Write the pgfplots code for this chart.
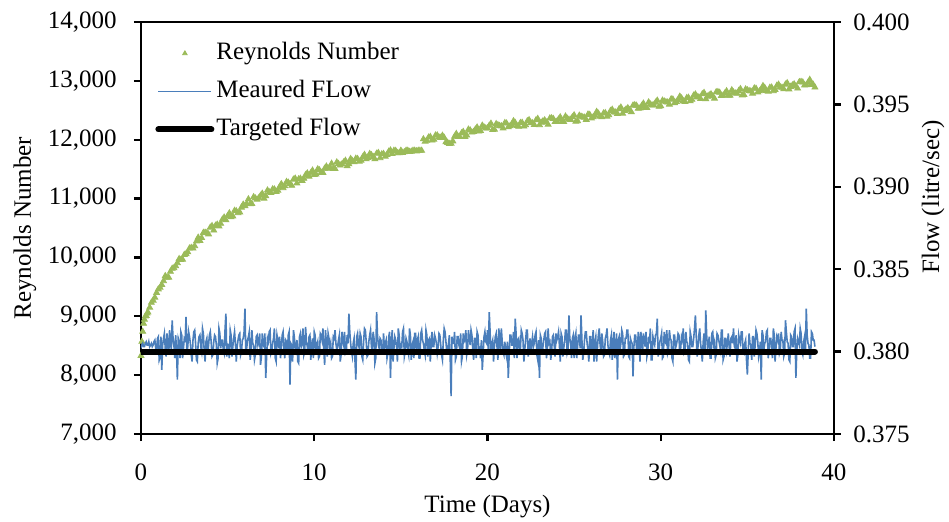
\documentclass[border=0pt]{standalone}
\usepackage{fontspec}
\setmainfont{Liberation Serif}
\usepackage{pgfplots}
\pgfplotsset{compat=1.18}
\definecolor{rgreen}{RGB}{155,187,89}
\definecolor{rblue}{RGB}{74,126,187}
\newcommand{\lblfont}{\fontsize{12.5}{15}\selectfont}
\pgfplotsset{
  common/.style={
    width=346.5pt, height=206pt, scale only axis,
    xmin=0, xmax=40,
    tick align=outside,
    major tick length=3.5pt,
    axis line style={line width=1.2pt},
    every tick/.style={black, line width=1.2pt},
    tick label style={font=\lblfont},
    label style={font=\lblfont},
    scaled y ticks=false,
    /pgf/number format/assume math mode=true,
    legend image code/.code={\draw[mark repeat=2,mark phase=2,#1] plot coordinates {(0pt,0pt) (13.25pt,0pt) (26.5pt,0pt)};},
  },
}
\begin{document}
\begin{tikzpicture}
\path[use as bounding box] (-70.5pt,-43.5pt) rectangle (404pt,217pt);
% left axis: Reynolds number
\begin{axis}[common,
  at={(0pt,0pt)}, anchor=south west,
  ymin=7000, ymax=14000,
  xtick={0,10,20,30,40},
  ytick={7000,8000,9000,10000,11000,12000,13000,14000},
  tick pos=left,
  yticklabel style={/pgf/number format/1000 sep={,}, inner sep=0pt, anchor=east, xshift=-8.5pt},
  xticklabel style={inner sep=0pt, anchor=north, yshift=-11pt},
  ylabel={Reynolds Number},
  ylabel style={at={(axis description cs:-0.1674,0.5)}, anchor=center},
  xlabel={Time (Days)},
  xlabel style={at={(axis description cs:0.5,0)}, anchor=center, yshift=-36.5pt},
]
\addplot[only marks, mark=triangle*, mark size=1.7pt, color=rgreen] coordinates {
(0.00,8330)(0.05,8570)(0.10,8740)(0.15,8875)(0.2,8945)(0.25,9000)(0.3,9010)(0.35,9050)(0.4,9068)(0.5,9150)
(0.6,9232)(0.7,9270)(0.8,9320)(0.9,9400)(1.0,9460)(1.1,9490)(1.2,9535)(1.3,9600)(1.4,9685)(1.5,9660)
(1.6,9660)(1.7,9760)(1.8,9810)(1.9,9820)(2.0,9855)(2.1,9905)(2.2,9975)(2.3,9960)(2.4,9965)(2.5,10045)
(2.6,10060)(2.7,10090)(2.8,10155)(2.9,10165)(3.0,10155)(3.2,10275)(3.4,10285)(3.6,10420)(3.8,10415)
(4.0,10510)(4.2,10460)(4.4,10560)(4.6,10575)(4.8,10680)(5.0,10705)(5.2,10685)(5.4,10795)(5.6,10755)
(5.8,10850)(6.0,10875)(6.2,10990)(6.4,10910)(6.6,11005)(6.8,11010)(7.0,11085)(7.2,11045)(7.4,11110)
(7.6,11160)(7.8,11115)(8.0,11200)(8.2,11180)(8.4,11285)(8.6,11250)(8.8,11325)(9.0,11260)(9.2,11340)
(9.4,11340)(9.6,11430)(9.8,11435)(10.0,11405)(10.2,11500)(10.4,11440)(10.6,11510)(10.8,11510)
(11.0,11595)(11.2,11505)(11.4,11590)(11.6,11585)(11.8,11645)(12.0,11585)(12.2,11640)(12.4,11680)
(12.6,11630)(12.8,11705)(13.0,11670)(13.2,11760)(13.4,11710)(13.6,11765)(13.8,11690)(14.0,11760)
(14.2,11745)(14.4,11820)(14.6,11815)(14.8,11775)(15.0,11815)(15.2,11790)(15.4,11815)(15.6,11800)
(15.8,11815)(16.0,11815)(16.2,11815)(16.4,11970)(16.6,12040)(16.8,11990)(17.0,12075)(17.2,12040)
(17.4,12070)(17.6,11960)(17.8,11930)(18.0,11975)(18.2,12100)(18.4,12050)(18.6,12135)(18.8,12075)
(19.0,12160)(19.2,12135)(19.4,12210)(19.6,12150)(19.8,12210)(20.0,12195)(20.2,12275)(20.4,12175)
(20.6,12250)(20.8,12230)(21.0,12285)(21.2,12215)(21.4,12255)(21.6,12287)(21.8,12223)(22.0,12290)
(22.2,12250)(22.4,12335)(22.6,12282)(22.8,12333)(23.0,12250)(23.2,12315)(23.4,12295)(23.6,12365)
(23.8,12355)(24.0,12307)(24.2,12383)(24.4,12304)(24.6,12360)(24.8,12341)(25.0,12417)(25.2,12318)
(25.4,12395)(25.6,12377)(25.8,12430)(26.0,12365)(26.2,12410)(26.4,12445)(26.6,12385)(26.8,12455)
(27.0,12420)(27.2,12512)(27.4,12465)(27.6,12523)(27.8,12445)(28.0,12517)(28.2,12505)(28.4,12583)
(28.6,12580)(28.8,12535)(29.0,12617)(29.2,12542)(29.4,12602)(29.6,12587)(29.8,12667)(30.0,12572)
(30.2,12652)(30.4,12635)(30.6,12690)(30.8,12625)(31.0,12670)(31.2,12705)(31.4,12645)(31.6,12715)
(31.8,12682)(32.0,12772)(32.2,12722)(32.4,12775)(32.6,12691)(32.8,12757)(33.0,12738)(33.2,12809)
(33.4,12800)(33.6,12751)(33.8,12827)(34.0,12750)(34.2,12806)(34.4,12787)(34.6,12863)(34.8,12765)
(35.0,12842)(35.2,12823)(35.4,12874)(35.6,12807)(35.8,12850)(36.0,12883)(36.2,12821)(36.4,12889)
(36.6,12850)(36.8,12938)(37.0,12886)(37.2,12939)(37.4,12857)(37.6,12925)(37.8,12908)(38.0,12981)
(38.2,12975)(38.4,12930)(38.6,13020)(38.8,12935)(38.9,12890)
(3.1,10195)(3.3,10338)(3.5,10332)(3.7,10423)(3.9,10395)(4.1,10535)(4.3,10540)(4.5,10530)(4.7,10645)
(4.9,10635)(5.1,10752)(5.3,10700)(5.5,10787)(5.7,10768)(5.9,10900)(6.1,10912)(6.3,10908)(6.5,11027)
(6.7,10985)(6.9,11050)(7.1,11002)(7.3,11140)(7.5,11097)(7.7,11158)(7.9,11137)(8.1,11248)(8.3,11212)
(8.5,11273)(8.7,11220)(8.9,11342)(9.1,11330)(9.3,11303)(9.5,11402)(9.7,11375)(9.9,11478)(10.1,11412)
(10.3,11483)(10.5,11440)(10.7,11547)(10.9,11532)(11.1,11508)(11.3,11617)(11.5,11565)(11.7,11618)
(11.9,11552)(12.1,11675)(12.3,11623)(12.5,11675)(12.7,11647)(12.9,11745)(13.1,11695)(13.3,11740)
(13.5,11670)(13.7,11778)(13.9,11755)(14.1,11715)(14.3,11800)(14.5,11760)(14.7,11812)(14.9,11775)
(15.1,11780)(15.3,11815)(15.5,11795)(15.7,11815)(15.9,11805)(16.1,11815)(16.3,12010)(16.5,11985)
(16.7,12050)(16.9,12005)(17.1,12075)(17.3,12035)(17.5,12035)(17.7,11950)(17.9,11935)(18.1,12055)
(18.3,12050)(18.5,12110)(18.7,12050)(18.9,12175)(19.1,12125)(19.3,12175)(19.5,12143)(19.7,12242)
(19.9,12195)(20.1,12240)(20.3,12167)(20.5,12268)(20.7,12237)(20.9,12195)(21.1,12278)(21.3,12232)
(21.5,12318)(21.7,12235)(21.9,12287)(22.1,12228)(22.3,12317)(22.5,12288)(22.7,12255)(22.9,12357)
(23.1,12293)(23.3,12332)(23.5,12258)(23.7,12367)(23.9,12303)(24.1,12345)(24.3,12306)(24.5,12397)
(24.7,12343)(24.9,12384)(25.1,12310)(25.3,12412)(25.5,12383)(25.7,12341)(25.9,12425)(26.1,12385)
(26.3,12475)(26.5,12395)(26.7,12450)(26.9,12395)(27.1,12491)(27.3,12468)(27.5,12442)(27.7,12549)
(27.9,12491)(28.1,12538)(28.3,12472)(28.5,12589)(28.7,12530)(28.9,12576)(29.1,12542)(29.3,12637)
(29.5,12587)(29.7,12632)(29.9,12562)(30.1,12667)(30.3,12641)(30.5,12600)(30.7,12685)(30.9,12645)
(31.1,12735)(31.3,12655)(31.5,12710)(31.7,12656)(31.9,12752)(32.1,12727)(32.3,12696)(32.5,12798)
(32.7,12734)(32.9,12775)(33.1,12701)(33.3,12812)(33.5,12748)(33.7,12789)(33.9,12751)(34.1,12843)
(34.3,12789)(34.5,12830)(34.7,12757)(34.9,12858)(35.1,12830)(35.3,12786)(35.5,12868)(35.7,12826)
(35.9,12914)(36.1,12832)(36.3,12885)(36.5,12827)(36.7,12919)(36.9,12892)(37.1,12860)(37.3,12963)
(37.5,12901)(37.7,12944)(37.9,12872)(38.1,12985)(38.3,12925)(38.5,12970)(38.7,12935)
};
\end{axis}
% right axis: flow
\begin{axis}[common,
  at={(0pt,0pt)}, anchor=south west,
  ymin=0.375, ymax=0.400,
  ytick={0.375,0.380,0.385,0.390,0.395,0.400},
  axis x line=none,
  axis y line*=right,
  yticklabel style={/pgf/number format/fixed, /pgf/number format/fixed zerofill, /pgf/number format/precision=3, inner sep=0pt, anchor=west, xshift=6pt},
  ylabel={Flow (litre/sec)},
  ylabel style={at={(axis description cs:1.143,0.575)}, anchor=center},
  legend style={draw=none, fill=none, at={(rel axis cs:0,1)}, anchor=north west, xshift=7pt, yshift=-8.5pt, inner sep=0pt, row sep=5pt,
    nodes={inner sep=1pt, text height=9pt, text depth=3pt, font=\lblfont}},
  legend cell align=left,
]
\addlegendimage{only marks, mark=triangle*, mark size=1.3pt, color=rgreen}
\addlegendentry{Reynolds Number}
\addplot[rblue, line width=0.8pt] coordinates {
(0.0,0.3802)(0.05,0.3804)(0.1,0.3805)(0.15,0.3803)(0.2,0.3803)(0.25,0.3805)(0.3,0.3806)(0.35,0.3804)(0.4,0.3804)(0.45,0.3806)(0.5,0.3803)(0.55,0.3804)(0.6,0.3805)(0.65,0.3803)(0.7,0.3804)(0.75,0.3806)(0.8,0.3807)(0.85,0.3802)(0.9,0.3801)(0.95,0.3808)
(1.0,0.3809)(1.05,0.3795)(1.1,0.3797)(1.15,0.3809)(1.2,0.3789)(1.25,0.3804)(1.3,0.3808)(1.35,0.3811)(1.4,0.3802)(1.45,0.3797)(1.5,0.3811)(1.55,0.3806)(1.6,0.3798)(1.65,0.3813)(1.7,0.3806)(1.75,0.3801)(1.8,0.3819)(1.85,0.3808)(1.9,0.3804)(1.95,0.3796)
(2.0,0.3810)(2.05,0.3801)(2.1,0.3783)(2.15,0.3808)(2.2,0.3806)(2.25,0.3796)(2.3,0.3812)(2.35,0.3810)(2.4,0.3796)(2.45,0.3802)(2.5,0.3808)(2.55,0.3807)(2.6,0.3821)(2.65,0.3799)(2.7,0.3803)(2.75,0.3812)(2.8,0.3809)(2.85,0.3805)(2.9,0.3798)(2.95,0.3794)
(3.0,0.3807)(3.05,0.3812)(3.1,0.3813)(3.15,0.3805)(3.2,0.3795)(3.25,0.3794)(3.3,0.3805)(3.35,0.3809)(3.4,0.3810)(3.45,0.3803)(3.5,0.3800)(3.55,0.3814)(3.6,0.3811)(3.65,0.3800)(3.7,0.3794)(3.75,0.3806)(3.8,0.3808)(3.85,0.3798)(3.9,0.3804)(3.95,0.3810)
(4.0,0.3812)(4.05,0.3806)(4.1,0.3797)(4.15,0.3798)(4.2,0.3806)(4.25,0.3810)(4.3,0.3809)(4.35,0.3804)(4.4,0.3793)(4.45,0.3796)(4.5,0.3814)(4.55,0.3811)(4.6,0.3802)(4.65,0.3807)(4.7,0.3807)(4.75,0.3801)(4.8,0.3799)(4.85,0.3813)(4.9,0.3823)(4.95,0.3797)
(5.0,0.3805)(5.05,0.3801)(5.1,0.3796)(5.15,0.3813)(5.2,0.3810)(5.25,0.3797)(5.3,0.3803)(5.35,0.3808)(5.4,0.3812)(5.45,0.3805)(5.5,0.3794)(5.55,0.3803)(5.6,0.3807)(5.65,0.3810)(5.7,0.3811)(5.75,0.3798)(5.8,0.3800)(5.85,0.3807)(5.9,0.3808)(5.95,0.3812)
(6.0,0.3826)(6.05,0.3798)(6.1,0.3802)(6.15,0.3807)(6.2,0.3809)(6.25,0.3812)(6.3,0.3795)(6.35,0.3800)(6.4,0.3813)(6.45,0.3805)(6.5,0.3804)(6.55,0.3795)(6.6,0.3798)(6.65,0.3809)(6.7,0.3810)(6.75,0.3804)(6.8,0.3806)(6.85,0.3811)(6.9,0.3792)(6.95,0.3797)
(7.0,0.3811)(7.05,0.3804)(7.1,0.3803)(7.15,0.3811)(7.2,0.3784)(7.25,0.3797)(7.3,0.3808)(7.35,0.3806)(7.4,0.3812)(7.45,0.3813)(7.5,0.3799)(7.55,0.3801)(7.6,0.3805)(7.65,0.3808)(7.7,0.3814)(7.75,0.3796)(7.8,0.3794)(7.85,0.3810)(7.9,0.3807)(7.95,0.3802)
(8.0,0.3809)(8.05,0.3796)(8.1,0.3802)(8.15,0.3810)(8.2,0.3812)(8.25,0.3802)(8.3,0.3796)(8.35,0.3807)(8.4,0.3806)(8.45,0.3799)(8.5,0.3810)(8.55,0.3812)(8.6,0.3780)(8.65,0.3805)(8.7,0.3804)(8.75,0.3794)(8.8,0.3813)(8.85,0.3809)(8.9,0.3801)(8.95,0.3803)
(9.0,0.3807)(9.05,0.3794)(9.1,0.3793)(9.15,0.3809)(9.2,0.3811)(9.25,0.3803)(9.3,0.3805)(9.35,0.3814)(9.4,0.3798)(9.45,0.3800)(9.5,0.3815)(9.55,0.3806)(9.6,0.3803)(9.65,0.3798)(9.7,0.3809)(9.75,0.3810)(9.8,0.3795)(9.85,0.3804)(9.9,0.3808)(9.95,0.3796)
(10.0,0.3812)(10.05,0.3810)(10.1,0.3800)(10.15,0.3804)(10.2,0.3806)(10.25,0.3796)(10.3,0.3797)(10.35,0.3811)(10.4,0.3810)(10.45,0.3807)(10.5,0.3814)(10.55,0.3801)(10.6,0.3792)(10.65,0.3813)(10.7,0.3805)(10.75,0.3797)(10.8,0.3811)(10.85,0.3808)(10.9,0.3802)(10.95,0.3805)
(11.0,0.3796)(11.05,0.3797)(11.1,0.3809)(11.15,0.3808)(11.2,0.3813)(11.25,0.3805)(11.3,0.3801)(11.35,0.3803)(11.4,0.3807)(11.45,0.3810)(11.5,0.3794)(11.55,0.3798)(11.6,0.3812)(11.65,0.3807)(11.7,0.3804)(11.75,0.3812)(11.8,0.3799)(11.85,0.3800)(11.9,0.3810)(11.95,0.3805)
(12.0,0.3823)(12.05,0.3812)(12.1,0.3805)(12.15,0.3800)(12.2,0.3797)(12.25,0.3805)(12.3,0.3808)(12.35,0.3795)(12.4,0.3783)(12.45,0.3809)(12.5,0.3811)(12.55,0.3804)(12.6,0.3802)(12.65,0.3811)(12.7,0.3809)(12.75,0.3797)(12.8,0.3795)(12.85,0.3806)(12.9,0.3814)(12.95,0.3813)
(13.0,0.3806)(13.05,0.3797)(13.1,0.3798)(13.15,0.3806)(13.2,0.3810)(13.25,0.3813)(13.3,0.3803)(13.35,0.3801)(13.4,0.3812)(13.45,0.3808)(13.5,0.3793)(13.55,0.3796)(13.6,0.3824)(13.65,0.3810)(13.7,0.3804)(13.75,0.3802)(13.8,0.3808)(13.85,0.3807)(13.9,0.3799)(13.95,0.3799)
(14.0,0.3811)(14.05,0.3802)(14.1,0.3805)(14.15,0.3807)(14.2,0.3796)(14.25,0.3799)(14.3,0.3809)(14.35,0.3812)(14.4,0.3784)(14.45,0.3805)(14.5,0.3813)(14.55,0.3794)(14.6,0.3802)(14.65,0.3809)(14.7,0.3807)(14.75,0.3803)(14.8,0.3794)(14.85,0.3814)(14.9,0.3810)(14.95,0.3800)
(15.0,0.3804)(15.05,0.3803)(15.1,0.3812)(15.15,0.3814)(15.2,0.3797)(15.25,0.3800)(15.3,0.3808)(15.35,0.3806)(15.4,0.3801)(15.45,0.3798)(15.5,0.3814)(15.55,0.3810)(15.6,0.3795)(15.65,0.3804)(15.7,0.3806)(15.75,0.3796)(15.8,0.3811)(15.85,0.3811)(15.9,0.3800)(15.95,0.3807)
(16.0,0.3809)(16.05,0.3796)(16.1,0.3796)(16.15,0.3811)(16.2,0.3813)(16.25,0.3807)(16.3,0.3805)(16.35,0.3801)(16.4,0.3798)(16.45,0.3813)(16.5,0.3810)(16.55,0.3797)(16.6,0.3807)(16.65,0.3808)(16.7,0.3794)(16.75,0.3805)(16.8,0.3812)(16.85,0.3803)(16.9,0.3803)(16.95,0.3810)
(17.0,0.3808)(17.05,0.3805)(17.1,0.3799)(17.15,0.3803)(17.2,0.3811)(17.25,0.3810)(17.3,0.3804)(17.35,0.3798)(17.4,0.3795)(17.45,0.3807)(17.5,0.3814)(17.55,0.3812)(17.6,0.3806)(17.65,0.3800)(17.7,0.3800)(17.75,0.3805)(17.8,0.3810)(17.85,0.3795)(17.9,0.3773)(17.95,0.3809)
(18.0,0.3805)(18.05,0.3805)(18.1,0.3812)(18.15,0.3795)(18.2,0.3797)(18.25,0.3809)(18.3,0.3809)(18.35,0.3804)(18.4,0.3802)(18.45,0.3811)(18.5,0.3794)(18.55,0.3797)(18.6,0.3811)(18.65,0.3806)(18.7,0.3807)(18.75,0.3813)(18.8,0.3798)(18.85,0.3801)(18.9,0.3813)(18.95,0.3808)
(19.0,0.3804)(19.05,0.3813)(19.1,0.3810)(19.15,0.3801)(19.2,0.3795)(19.25,0.3808)(19.3,0.3808)(19.35,0.3796)(19.4,0.3812)(19.45,0.3810)(19.5,0.3801)(19.55,0.3802)(19.6,0.3796)(19.65,0.3807)(19.7,0.3789)(19.75,0.3799)(19.8,0.3809)(19.85,0.3812)(19.9,0.3806)(19.95,0.3805)
(20.0,0.3813)(20.05,0.3799)(20.1,0.3824)(20.15,0.3812)(20.2,0.3798)(20.25,0.3805)(20.3,0.3807)(20.35,0.3794)(20.4,0.3803)(20.45,0.3809)(20.5,0.3811)(20.55,0.3803)(20.6,0.3795)(20.65,0.3814)(20.7,0.3809)(20.75,0.3800)(20.8,0.3814)(20.85,0.3806)(20.9,0.3800)(20.95,0.3798)
(21.0,0.3806)(21.05,0.3800)(21.1,0.3797)(21.15,0.3806)(21.2,0.3784)(21.25,0.3798)(21.3,0.3810)(21.35,0.3810)(21.4,0.3804)(21.45,0.3804)(21.5,0.3812)(21.55,0.3796)(21.6,0.3820)(21.65,0.3811)(21.7,0.3796)(21.75,0.3807)(21.8,0.3808)(21.85,0.3801)(21.9,0.3802)(21.95,0.3813)
(22.0,0.3811)(22.05,0.3807)(22.1,0.3794)(22.15,0.3801)(22.2,0.3807)(22.25,0.3813)(22.3,0.3813)(22.35,0.3797)(22.4,0.3801)(22.45,0.3808)(22.5,0.3798)(22.55,0.3805)(22.6,0.3809)(22.65,0.3803)(22.7,0.3805)(22.75,0.3810)(22.8,0.3812)(22.85,0.3798)(22.9,0.3795)(22.95,0.3807)
(23.0,0.3784)(23.05,0.3810)(23.1,0.3808)(23.15,0.3798)(23.2,0.3803)(23.25,0.3807)(23.3,0.3811)(23.35,0.3812)(23.4,0.3796)(23.45,0.3800)(23.5,0.3814)(23.55,0.3805)(23.6,0.3806)(23.65,0.3795)(23.7,0.3800)(23.75,0.3809)(23.8,0.3810)(23.85,0.3804)(23.9,0.3797)(23.95,0.3811)
(24.0,0.3807)(24.05,0.3809)(24.1,0.3812)(24.15,0.3804)(24.2,0.3794)(24.25,0.3811)(24.3,0.3809)(24.35,0.3797)(24.4,0.3802)(24.45,0.3806)(24.5,0.3813)(24.55,0.3813)(24.6,0.3799)(24.65,0.3801)(24.7,0.3822)(24.75,0.3808)(24.8,0.3805)(24.85,0.3796)(24.9,0.3808)(24.95,0.3810)
(25.0,0.3796)(25.05,0.3808)(25.1,0.3811)(25.15,0.3796)(25.2,0.3803)(25.25,0.3810)(25.3,0.3810)(25.35,0.3802)(25.4,0.3822)(25.45,0.3807)(25.5,0.3795)(25.55,0.3799)(25.6,0.3807)(25.65,0.3812)(25.7,0.3812)(25.75,0.3805)(25.8,0.3801)(25.85,0.3794)(25.9,0.3809)(25.95,0.3809)
(26.0,0.3798)(26.05,0.3805)(26.1,0.3813)(26.15,0.3794)(26.2,0.3806)(26.25,0.3809)(26.3,0.3794)(26.35,0.3803)(26.4,0.3810)(26.45,0.3814)(26.5,0.3804)(26.55,0.3800)(26.6,0.3811)(26.65,0.3806)(26.7,0.3797)(26.75,0.3798)(26.8,0.3808)(26.85,0.3810)(26.9,0.3814)(26.95,0.3804)
(27.0,0.3800)(27.05,0.3798)(27.1,0.3807)(27.15,0.3810)(27.2,0.3795)(27.25,0.3804)(27.3,0.3812)(27.35,0.3796)(27.4,0.3803)(27.45,0.3811)(27.5,0.3783)(27.55,0.3807)(27.6,0.3809)(27.65,0.3801)(27.7,0.3805)(27.75,0.3813)(27.8,0.3811)(27.85,0.3797)(27.9,0.3798)(27.95,0.3808)
(28.0,0.3808)(28.05,0.3813)(28.1,0.3813)(28.15,0.3797)(28.2,0.3796)(28.25,0.3808)(28.3,0.3806)(28.35,0.3805)(28.4,0.3785)(28.45,0.3803)(28.5,0.3810)(28.55,0.3810)(28.6,0.3802)(28.65,0.3798)(28.7,0.3812)(28.75,0.3807)(28.8,0.3794)(28.85,0.3812)(28.9,0.3807)(28.95,0.3800)
(29.0,0.3811)(29.05,0.3807)(29.1,0.3803)(29.15,0.3812)(29.2,0.3797)(29.25,0.3800)(29.3,0.3809)(29.35,0.3805)(29.4,0.3814)(29.45,0.3795)(29.5,0.3795)(29.55,0.3809)(29.6,0.3806)(29.65,0.3804)(29.7,0.3810)(29.75,0.3811)(29.8,0.3820)(29.85,0.3797)(29.9,0.3801)(29.95,0.3806)
(30.0,0.3808)(30.05,0.3811)(30.1,0.3796)(30.15,0.3797)(30.2,0.3812)(30.25,0.3806)(30.3,0.3805)(30.35,0.3813)(30.4,0.3799)(30.45,0.3801)(30.5,0.3813)(30.55,0.3808)(30.6,0.3807)(30.65,0.3796)(30.7,0.3794)(30.75,0.3810)(30.8,0.3810)(30.85,0.3802)(30.9,0.3804)(30.95,0.3807)
(31.0,0.3811)(31.05,0.3810)(31.1,0.3798)(31.15,0.3802)(31.2,0.3809)(31.25,0.3807)(31.3,0.3814)(31.35,0.3799)(31.4,0.3800)(31.45,0.3812)(31.5,0.3806)(31.55,0.3805)(31.6,0.3795)(31.65,0.3794)(31.7,0.3812)(31.75,0.3809)(31.8,0.3803)(31.85,0.3803)(31.9,0.3808)(31.95,0.3814)
(32.0,0.3822)(32.05,0.3809)(32.1,0.3797)(32.15,0.3803)(32.2,0.3810)(32.25,0.3814)(32.3,0.3805)(32.35,0.3800)(32.4,0.3794)(32.45,0.3806)(32.5,0.3811)(32.55,0.3798)(32.6,0.3825)(32.65,0.3810)(32.7,0.3802)(32.75,0.3804)(32.8,0.3809)(32.85,0.3796)(32.9,0.3796)(32.95,0.3811)
(33.0,0.3812)(33.05,0.3804)(33.1,0.3806)(33.15,0.3796)(33.2,0.3798)(33.25,0.3811)(33.3,0.3810)(33.35,0.3807)(33.4,0.3804)(33.45,0.3801)(33.5,0.3813)(33.55,0.3813)(33.6,0.3795)(33.65,0.3797)(33.7,0.3808)(33.75,0.3808)(33.8,0.3801)(33.85,0.3805)(33.9,0.3811)(33.95,0.3803)
(34.0,0.3797)(34.05,0.3808)(34.1,0.3809)(34.15,0.3805)(34.2,0.3814)(34.25,0.3803)(34.3,0.3802)(34.35,0.3810)(34.4,0.3794)(34.45,0.3798)(34.5,0.3810)(34.55,0.3807)(34.6,0.3805)(34.65,0.3812)(34.7,0.3812)(34.75,0.3800)(34.8,0.3799)(34.85,0.3805)(34.9,0.3807)(34.95,0.3795)
(35.0,0.3786)(35.05,0.3800)(35.1,0.3811)(35.15,0.3805)(35.2,0.3804)(35.25,0.3795)(35.3,0.3809)(35.35,0.3809)(35.4,0.3797)(35.45,0.3804)(35.5,0.3813)(35.55,0.3811)(35.6,0.3806)(35.65,0.3797)(35.7,0.3800)(35.75,0.3806)(35.8,0.3783)(35.85,0.3813)(35.9,0.3810)(35.95,0.3801)
(36.0,0.3805)(36.05,0.3806)(36.1,0.3812)(36.15,0.3813)(36.2,0.3796)(36.25,0.3801)(36.3,0.3808)(36.35,0.3808)(36.4,0.3802)(36.45,0.3796)(36.5,0.3814)(36.55,0.3810)(36.6,0.3794)(36.65,0.3802)(36.7,0.3809)(36.75,0.3807)(36.8,0.3811)(36.85,0.3799)(36.9,0.3801)(36.95,0.3812)
(37.0,0.3807)(37.05,0.3807)(37.1,0.3797)(37.15,0.3799)(37.2,0.3819)(37.25,0.3812)(37.3,0.3806)(37.35,0.3805)(37.4,0.3795)(37.45,0.3794)(37.5,0.3810)(37.55,0.3809)(37.6,0.3803)(37.65,0.3803)(37.7,0.3812)(37.75,0.3814)(37.8,0.3784)(37.85,0.3800)(37.9,0.3808)(37.95,0.3806)
(38.0,0.3804)(38.05,0.3814)(38.1,0.3811)(38.15,0.3800)(38.2,0.3798)(38.25,0.3806)(38.3,0.3809)(38.35,0.3798)(38.4,0.3826)(38.45,0.3810)(38.5,0.3805)(38.55,0.3804)(38.6,0.3796)(38.65,0.3796)(38.7,0.3812)(38.75,0.3811)(38.8,0.3807)(38.85,0.3807)(38.9,0.3803)
};
\addlegendentry{Meaured FLow}
\addplot[black, line width=3pt, line cap=round] coordinates {(0,0.380) (38.9,0.380)};
\addlegendentry{Targeted Flow}
\end{axis}
\end{tikzpicture}
\end{document}
